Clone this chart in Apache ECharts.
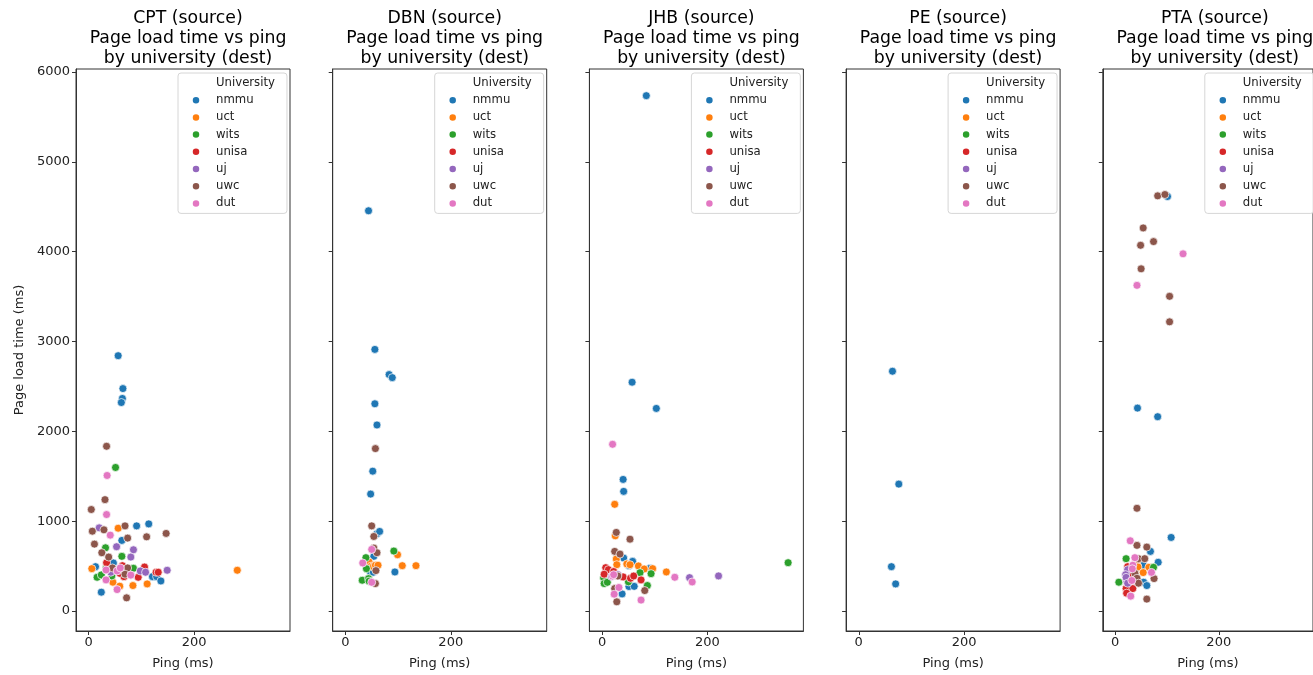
<!DOCTYPE html>
<html>
<head>
<meta charset="utf-8">
<script src="https://cdn.jsdelivr.net/npm/echarts@6/dist/echarts.min.js"></script>
<style>
  html, body { margin: 0; padding: 0; background: #fff; }
  #chart { width: 1313px; height: 675px; }
</style>
</head>
<body>
<div id="chart"></div>
<script>
// categories
var sources = ['CPT', 'DBN', 'JHB', 'PE', 'PTA'];
var universities = ['nmmu', 'uct', 'wits', 'unisa', 'uj', 'uwc', 'dut'];
var colors = ['#1f77b4', '#ff7f0e', '#2ca02c', '#d62728', '#9467bd', '#8c564b', '#e377c2'];
var xTicks = [0, 200];
var yTicks = [0, 1000, 2000, 3000, 4000, 5000, 6000];

// [ping (ms), page load time (ms)] per destination university
var cptData = {
    nmmu: [[56, 2842], [65, 2476], [64, 2366], [62, 2321], [91, 948], [114, 970], [63, 786], [47, 535], [13, 494], [24, 210], [121, 383], [129, 383], [137, 335], [75, 440]],
    uct: [[56, 922], [6, 472], [46, 321], [59, 277], [84, 284], [111, 302], [282, 454], [66, 470]],
    wits: [[51, 1598], [32, 704], [63, 609], [16, 376], [24, 402], [44, 391], [85, 476], [33, 480]],
    unisa: [[34, 538], [64, 505], [106, 490], [94, 376], [128, 432], [132, 432], [67, 383], [59, 420]],
    uj: [[20, 926], [53, 716], [85, 682], [80, 601], [98, 446], [108, 432], [149, 454], [42, 432], [80, 398]],
    uwc: [[34, 1834], [31, 1240], [5, 1130], [7, 889], [29, 904], [69, 948], [74, 812], [110, 826], [147, 864], [11, 745], [25, 649], [38, 601], [72, 147], [74, 480], [69, 410], [45, 480]],
    dut: [[35, 1509], [34, 1074], [41, 845], [33, 457], [33, 347], [54, 239], [54, 446], [60, 480], [80, 400]]
};
var dbnData = {
    nmmu: [[44, 4455], [56, 2912], [83, 2632], [89, 2598], [56, 2307], [60, 2071], [52, 1557], [48, 1302], [60, 860], [65, 886], [54, 609], [47, 443], [53, 432], [94, 435]],
    uct: [[99, 627], [45, 546], [49, 500], [53, 495], [57, 510], [62, 510], [108, 505], [134, 505]],
    wits: [[39, 594], [92, 668], [40, 472], [32, 343], [44, 361], [45, 333]],
    unisa: [],
    uj: [],
    uwc: [[57, 1808], [50, 948], [54, 830], [54, 701], [60, 649], [58, 450], [57, 306]],
    dut: [[50, 686], [33, 535], [50, 320]]
};
var jhbData = {
    nmmu: [[84, 5736], [57, 2547], [103, 2255], [40, 1465], [41, 1332], [41, 590], [58, 553], [51, 505], [91, 476], [51, 273], [61, 275], [38, 191]],
    uct: [[24, 1188], [25, 837], [27, 579], [28, 516], [47, 524], [53, 516], [69, 502], [80, 468], [96, 472], [122, 435]],
    wits: [[72, 427], [93, 416], [353, 538], [3, 369], [4, 306], [10, 320], [50, 325], [86, 284]],
    unisa: [[7, 483], [12, 461], [4, 410], [40, 380], [54, 365], [60, 390], [74, 347], [22, 440]],
    uj: [[221, 391], [166, 372], [18, 385], [30, 405]],
    uwc: [[27, 875], [53, 800], [24, 664], [34, 634], [81, 228], [24, 250], [28, 103], [30, 390]],
    dut: [[20, 1856], [138, 376], [171, 324], [32, 262], [23, 188], [74, 122], [20, 390], [22, 405]]
};
var peData = {
    nmmu: [[64, 2669], [76, 1413], [62, 494], [70, 302]],
    uct: [], wits: [], unisa: [], uj: [], uwc: [], dut: []
};
var ptaData = {
    nmmu: [[101, 4614], [43, 2259], [82, 2163], [108, 819], [68, 664], [83, 543], [54, 509], [55, 321], [61, 284]],
    uct: [[42, 516], [44, 490], [65, 487], [54, 428]],
    wits: [[21, 583], [74, 487], [7, 321]],
    unisa: [[24, 494], [31, 400], [25, 284], [21, 250], [34, 250], [22, 199]],
    uj: [[24, 460], [20, 405], [22, 340], [21, 375], [24, 310]],
    uwc: [[82, 4621], [96, 4636], [54, 4264], [74, 4112], [49, 4071], [50, 3809], [105, 3503], [105, 3219], [42, 1144], [42, 731], [61, 712], [45, 583], [57, 583], [38, 420], [75, 361], [42, 365], [45, 310], [61, 133]],
    dut: [[131, 3976], [42, 3625], [29, 782], [38, 594], [34, 510], [33, 470], [70, 430], [32, 340], [30, 166]]
};
var panelData = [cptData, dbnData, jhbData, peData, ptaData];

var font = 'DejaVu Sans';
var panelLeft = 76, panelStep = 256.7, panelWidth = 214;

var chart = echarts.init(document.getElementById('chart'));

var grids = [], xAxes = [], yAxes = [], titles = [], legends = [], series = [];

sources.forEach(function (src, i) {
    var left = panelLeft + panelStep * i;
    grids.push({
        left: left, top: 69, width: panelWidth, height: 564,
        show: true, borderColor: '#333', borderWidth: 1, backgroundColor: '#fff'
    });
    titles.push({
        text: src + ' (source)\nPage load time vs ping\nby university (dest)',
        left: left + panelWidth / 2, top: 4, textAlign: 'center',
        textStyle: { fontFamily: font, fontSize: 17.3, fontWeight: 'normal', color: '#000', lineHeight: 20 }
    });
    xAxes.push({
        type: 'value', gridIndex: i, min: -24, max: 382,
        name: 'Ping (ms)', nameLocation: 'middle', nameGap: 26,
        nameTextStyle: { fontFamily: font, fontSize: 13, color: '#222' },
        axisLine: { show: true, onZero: false, lineStyle: { color: '#333' } },
        axisTick: { show: true, length: 4, customValues: xTicks, lineStyle: { color: '#333' } },
        axisLabel: { show: true, customValues: xTicks, margin: 5, fontFamily: font, fontSize: 13, color: '#222' },
        splitLine: { show: false }
    });
    yAxes.push({
        type: 'value', gridIndex: i, min: -222, max: 6033,
        name: i === 0 ? 'Page load time (ms)' : '', nameLocation: 'middle', nameGap: 50,
        nameTextStyle: { fontFamily: font, fontSize: 13, color: '#222' },
        axisLine: { show: true, onZero: false, lineStyle: { color: '#333' } },
        axisTick: { show: true, length: 4, customValues: yTicks, lineStyle: { color: '#333' } },
        axisLabel: {
            show: i === 0, customValues: yTicks, margin: 6, fontFamily: font, fontSize: 13, color: '#222',
            formatter: function (v) { return String(v); }
        },
        splitLine: { show: false }
    });
    legends.push({
        orient: 'vertical', left: left + 102, top: 73,
        data: [{ name: 'University', icon: 'none' }].concat(universities),
        icon: 'circle', itemWidth: 30, itemHeight: 8.5, itemGap: 3.2,
        padding: [3, 12, 3, 3],
        borderColor: '#d6d6d6', borderWidth: 1, borderRadius: 3,
        backgroundColor: 'rgba(255,255,255,0.85)',
        selectedMode: false,
        textStyle: { fontFamily: font, fontSize: 11.7, color: '#222', lineHeight: 14 }
    });
    universities.forEach(function (u, j) {
        series.push({
            type: 'scatter', name: u, xAxisIndex: i, yAxisIndex: i,
            data: panelData[i][u],
            symbolSize: 8,
            itemStyle: { color: colors[j], borderColor: '#fff', borderWidth: 0.7, opacity: 1 }
        });
    });
});

// empty series so the legend can show its title row
series.push({ type: 'scatter', name: 'University', xAxisIndex: 0, yAxisIndex: 0, data: [], itemStyle: { color: '#fff' } });

chart.setOption({
    animation: false,
    color: colors,
    title: titles,
    grid: grids,
    xAxis: xAxes,
    yAxis: yAxes,
    legend: legends,
    series: series
});
window.addEventListener('resize', chart.resize);
</script>
</body>
</html>
